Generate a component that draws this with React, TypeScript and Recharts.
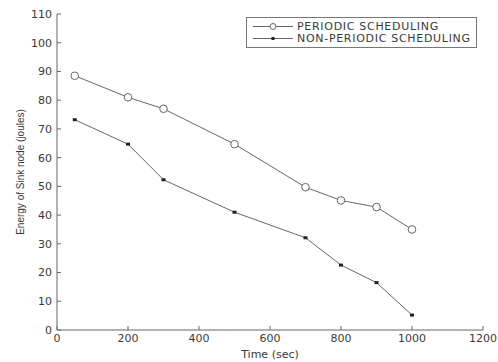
import React from 'react';
import { LineChart, Line, XAxis, YAxis, Legend } from 'recharts';

const times = [50, 200, 300, 500, 700, 800, 900, 1000];
const periodic = [88.5, 81, 77, 64.7, 49.7, 45.1, 42.8, 35];
const nonPeriodic = [73.2, 64.7, 52.3, 41, 32.1, 22.6, 16.5, 5.2];
const xTicks = [0, 200, 400, 600, 800, 1000, 1200];
const yTicks = [0, 10, 20, 30, 40, 50, 60, 70, 80, 90, 100, 110];
const seriesNames = ['PERIODIC SCHEDULING', 'NON-PERIODIC SCHEDULING'];

const data = times.map((t, i) => ({ t, p: periodic[i], n: nonPeriodic[i] }));

const LINE = '#666';
const TEXT = '#3a3a3a';
const FONT = '"DejaVu Sans", sans-serif';

const OpenCircle = (props: any) => {
  const { cx, cy } = props;
  if (cx == null || cy == null) return null;
  return <circle cx={cx} cy={cy} r={3.8} fill="#fff" stroke={LINE} strokeWidth={1} />;
};
const SmallDot = (props: any) => {
  const { cx, cy } = props;
  if (cx == null || cy == null) return null;
  return <rect x={cx - 2} y={cy - 1.5} width={4} height={3} fill="#222" />;
};

const LegendBox = () => (
  <div
    style={{
      position: 'absolute',
      left: 246,
      top: 17,
      width: 231,
      height: 31,
      border: '1px solid #777',
      background: '#fff',
      fontFamily: FONT,
      fontSize: 11,
      letterSpacing: 0.7,
      color: TEXT,
      boxSizing: 'border-box',
    }}
  >
    {seriesNames.map((name, i) => (
      <div key={name} style={{ position: 'absolute', left: 6, top: i === 0 ? 3 : 15, height: 11, display: 'flex', alignItems: 'center', whiteSpace: 'nowrap', lineHeight: '11px' }}>
        <svg width={40} height={11} style={{ display: 'block' }}>
          <line x1={0} y1={5.5} x2={40} y2={5.5} stroke={LINE} strokeWidth={1} />
          {i === 0 ? (
            <circle cx={20} cy={5.5} r={3} fill="#fff" stroke={LINE} />
          ) : (
            <rect x={18.5} y={4} width={3} height={3} fill="#222" />
          )}
        </svg>
        <span style={{ marginLeft: 4 }}>{name}</span>
      </div>
    ))}
  </div>
);

export default function App() {
  return (
    <div style={{ position: 'absolute', left: 0, top: 0, width: 498, height: 362, background: '#fff' }}>
      <LineChart width={498} height={362} data={data} margin={{ top: 14, right: 15, left: 0, bottom: 0 }}>
        <XAxis
          dataKey="t"
          type="number"
          domain={[0, 1200]}
          ticks={xTicks}
          height={32}
          axisLine={{ stroke: LINE }}
          tickLine={{ stroke: LINE }}
          tickSize={-4}
          tickMargin={8}
          tick={{ fill: TEXT, fontSize: 11, fontFamily: FONT }}
          interval={0}
          label={{ value: 'Time (sec)', position: 'center', dy: 8, fill: TEXT, fontSize: 11, fontFamily: FONT }}
        />
        <YAxis
          type="number"
          domain={[0, 110]}
          ticks={yTicks}
          width={57}
          axisLine={{ stroke: LINE }}
          tickLine={{ stroke: LINE }}
          tickSize={-4}
          tickMargin={9}
          tick={{ fill: TEXT, fontSize: 11, fontFamily: FONT }}
          interval={0}
          label={{ value: 'Energy of Sink node (joules)', angle: -90, position: 'center', dx: -8, fill: TEXT, fontSize: 10, fontFamily: '"Liberation Sans", Arial, sans-serif' }}
        />
        <Legend content={() => <LegendBox />} wrapperStyle={{ position: 'absolute', left: 0, top: 0, width: 0, height: 0 }} />
        <Line dataKey="p" name={seriesNames[0]} stroke={LINE} strokeWidth={1} dot={<OpenCircle />} isAnimationActive={false} />
        <Line dataKey="n" name={seriesNames[1]} stroke={LINE} strokeWidth={1} dot={<SmallDot />} isAnimationActive={false} />
      </LineChart>
    </div>
  );
}
